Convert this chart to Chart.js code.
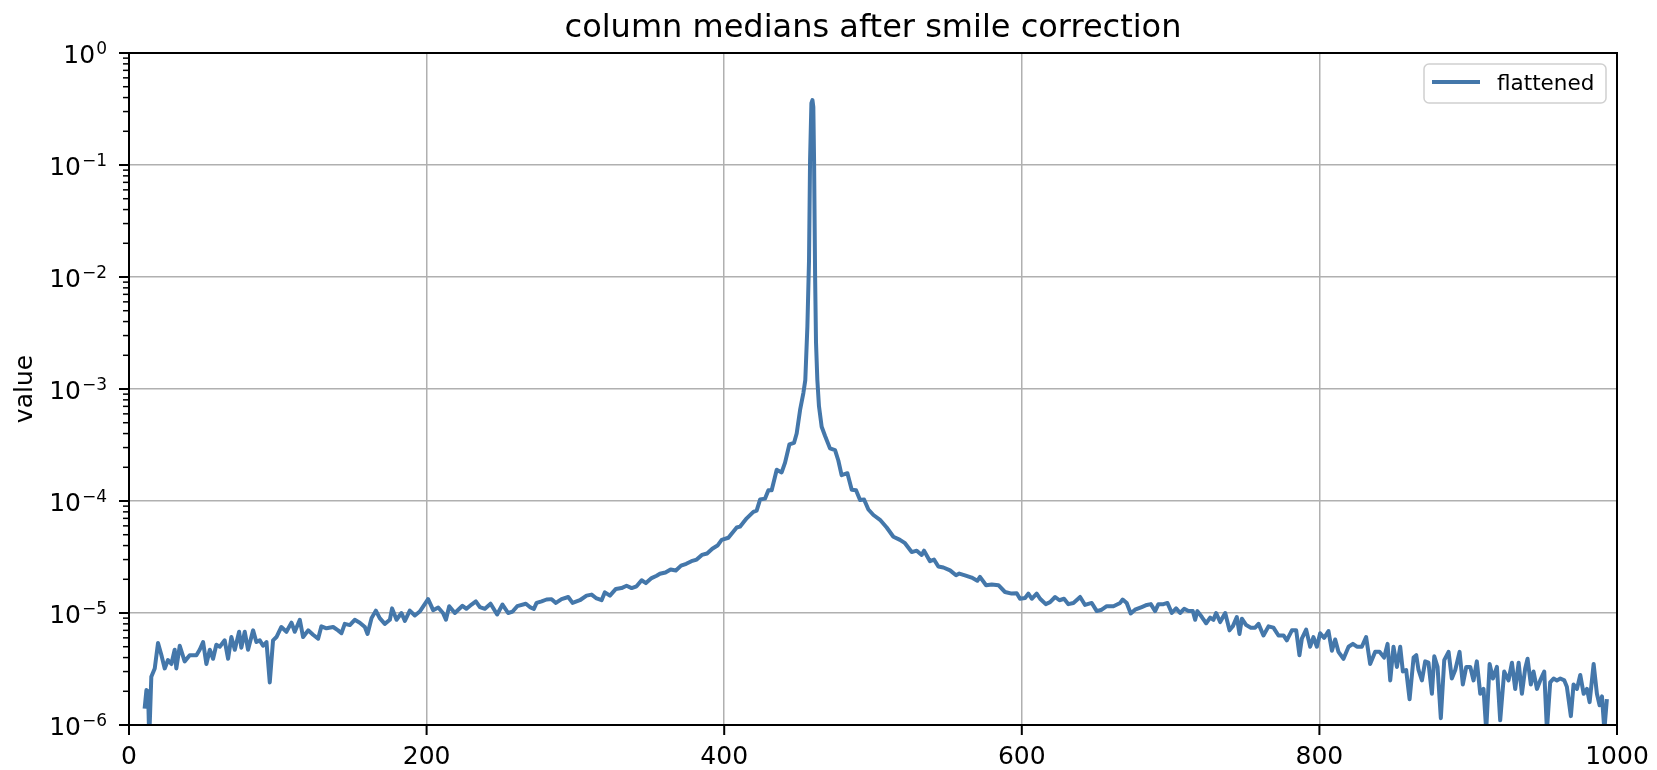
<!DOCTYPE html>
<html>
<head>
<meta charset="utf-8">
<title>column medians after smile correction</title>
<script src="https://cdn.jsdelivr.net/npm/chart.js@4.4.1/dist/chart.umd.min.js"></script>
<style>
  html, body { margin: 0; padding: 0; background: #fff; }
  canvas { display: block; }
</style>
</head>
<body>
<canvas id="medianChart" width="1657" height="770"></canvas>
<script>
/* ===============================
   DATA
================================ */
const TITLE = 'column medians after smile correction';
const Y_LABEL = 'value';
const SERIES_LABEL = 'flattened';

const X_TICKS = [0, 200, 400, 600, 800, 1000];
const Y_DECADES = [-6, -5, -4, -3, -2, -1, 0];

// column index
const columns = [
  10.5, 11.7, 12.8, 13.6, 15.0, 17.3, 19.5, 21.8, 24.0, 26.2, 28.5, 30.7, 31.8, 34.1, 37.4, 40.8,
  45.3, 47.5, 49.8, 52.0, 54.3, 56.5, 58.7, 61.0, 64.3, 66.6, 68.8, 71.1, 74.0, 75.5, 77.8, 80.0,
  83.4, 85.6, 87.9, 90.1, 92.4, 94.6, 96.8, 99.1, 102.4, 105.8, 109.2, 111.4, 114.8, 117.0, 120.4,
  123.7, 127.1, 129.3, 132.7, 137.2, 140.5, 142.8, 145.0, 148.4, 151.7, 155.1, 158.5, 160.3, 163.0,
  165.9, 168.5, 171.9, 175.3, 176.8, 179.8, 183.1, 185.4, 188.7, 192.1, 195.4, 201.0, 204.4, 207.8,
  211.0, 213.0, 215.2, 219.0, 224.1, 226.8, 230.2, 233.1, 235.8, 239.2, 243.0, 247.4, 251.0, 254.8,
  257.8, 260.9, 266.7, 269.4, 272.1, 273.9, 277.3, 280.6, 284.0, 286.9, 290.7, 295.2, 298.1, 303.0,
  307.5, 310.9, 313.8, 317.6, 319.8, 323.2, 327.2, 331.0, 334.4, 337.8, 341.1, 344.5, 347.4, 351.2,
  354.6, 356.8, 360.5, 364.0, 367.5, 371.0, 374.5, 378.0, 381.5, 385.0, 388.5, 392.0, 395.5,
  398.3, 402.8, 408.4, 410.6, 415.1, 419.6, 421.8, 424.1, 427.4, 429.7, 431.9, 435.3, 438.6, 440.9,
  443.8, 446.9, 448.7, 451.0, 453.2, 454.5, 455.9, 457.0, 457.7, 458.6, 459.3, 459.9, 460.4, 461.1,
  461.7, 462.6, 463.7, 465.5, 467.8, 471.1, 474.5, 476.7, 478.9, 482.8, 485.7, 488.6, 491.3, 494.0,
  496.9, 500.3, 504.7, 509.2, 513.7, 518.1, 521.5, 526.0, 529.4, 532.7, 534.3, 538.3, 541.0, 543.9,
  547.3, 551.8, 555.8, 558.0, 561.8, 566.3, 570.1, 571.9, 576.0, 579.8, 584.3, 588.7, 593.2, 596.6,
  598.8, 602.2, 604.4, 606.7, 610.0, 612.3, 616.1, 619.0, 622.4, 625.3, 628.4, 631.3, 634.7, 639.2,
  642.5, 647.0, 650.4, 653.7, 657.1, 661.6, 666.1, 667.8, 670.5, 673.2, 676.1, 680.6, 684.0, 686.7,
  689.6, 691.8, 695.2, 697.9, 700.8, 703.7, 706.4, 709.1, 712.0, 714.9, 716.5, 718.0, 721.0, 723.9,
  726.6, 728.8, 730.6, 733.3, 736.7, 739.6, 741.8, 744.5, 746.3, 747.9, 750.8, 753.9, 756.8, 759.1,
  762.4, 765.8, 769.1, 772.5, 775.9, 778.1, 781.5, 784.4, 786.6, 788.2, 791.1, 793.8, 796.0, 798.3,
  800.5, 803.2, 806.1, 808.4, 810.6, 812.8, 816.2, 819.6, 822.5, 825.2, 828.5, 831.4, 834.1, 837.5,
  840.4, 843.5, 845.8, 847.6, 849.8, 852.1, 854.3, 856.1, 858.3, 860.6, 863.3, 865.1, 866.6, 868.9,
  871.1, 873.3, 875.6, 877.2, 879.4, 881.6, 883.9, 886.8, 889.0, 891.3, 894.2, 896.4, 898.7, 901.4,
  903.6, 905.8, 908.1, 910.3, 912.1, 914.4, 916.6, 919.3, 921.5, 924.2, 927.1, 929.4, 931.6, 933.9,
  936.1, 938.3, 939.9, 942.1, 943.9, 946.2, 948.4, 951.1, 952.9, 955.1, 957.4, 959.6, 961.9, 964.6,
  966.3, 969.0, 970.8, 973.1, 975.3, 977.6, 979.8, 981.6, 984.3, 986.5, 988.3, 989.9, 991.5, 993.2,
];

// median value per column
const medians = [
  1.4e-6, 2.05e-6, 2.0e-6, 0.75e-6, 2.7e-6, 3.2e-6, 5.4e-6, 4.2e-6, 3.2e-6, 3.8e-6, 3.5e-6, 4.7e-6, 3.2e-6, 5.1e-6, 3.7e-6, 4.2e-6,
  4.2e-6, 4.7e-6, 5.5e-6, 3.5e-6, 4.7e-6, 3.9e-6, 5.2e-6, 5.0e-6, 5.7e-6, 3.9e-6, 6.1e-6, 4.7e-6, 6.8e-6, 4.9e-6, 6.8e-6, 4.7e-6,
  7.0e-6, 5.5e-6, 5.7e-6, 5.1e-6, 5.5e-6, 2.4e-6, 5.7e-6, 6.1e-6, 7.5e-6, 6.8e-6, 8.2e-6, 6.8e-6, 8.7e-6, 6.1e-6, 7.0e-6,
  6.4e-6, 5.9e-6, 7.6e-6, 7.3e-6, 7.5e-6, 7.0e-6, 6.6e-6, 8.0e-6, 7.8e-6, 8.7e-6, 8.2e-6, 7.5e-6, 6.5e-6, 9.0e-6,
  1.05e-5, 9.0e-6, 8.0e-6, 8.7e-6, 1.1e-5, 8.7e-6, 1.0e-5, 8.5e-6, 1.05e-5, 9.5e-6, 1.03e-5, 1.33e-5, 1.06e-5, 1.12e-5,
  1.0e-5, 8.7e-6, 1.15e-5, 1.0e-5, 1.16e-5, 1.09e-5, 1.19e-5, 1.27e-5, 1.13e-5, 1.09e-5, 1.21e-5, 9.7e-6, 1.19e-5, 1.0e-5,
  1.03e-5, 1.15e-5, 1.21e-5, 1.13e-5, 1.09e-5, 1.23e-5, 1.27e-5, 1.32e-5, 1.33e-5, 1.23e-5, 1.33e-5, 1.39e-5, 1.23e-5, 1.30e-5,
  1.43e-5, 1.46e-5, 1.36e-5, 1.30e-5, 1.53e-5, 1.43e-5, 1.64e-5, 1.67e-5, 1.75e-5, 1.67e-5, 1.73e-5, 1.96e-5, 1.85e-5, 2.05e-5,
  2.15e-5, 2.24e-5, 2.3e-5, 2.45e-5, 2.4e-5, 2.65e-5, 2.75e-5, 2.9e-5, 3.0e-5, 3.3e-5, 3.4e-5, 3.75e-5, 4.0e-5,
  4.5e-5, 4.7e-5, 5.8e-5, 5.9e-5, 7.0e-5, 8.0e-5, 8.2e-5, 1.03e-4, 1.05e-4, 1.25e-4, 1.25e-4, 1.9e-4, 1.8e-4, 2.2e-4,
  3.2e-4, 3.3e-4, 4.0e-4, 6.5e-4, 9.2e-4, 1.2e-3, 3.6e-3, 1.4e-2, 0.11, 0.356, 0.38, 0.33, 0.11, 1.0e-2,
  2.6e-3, 1.2e-3, 7.0e-4, 4.6e-4, 3.8e-4, 2.95e-4, 2.85e-4, 2.3e-4, 1.7e-4, 1.77e-4, 1.26e-4, 1.25e-4, 1.02e-4, 1.03e-4,
  8.4e-5, 7.5e-5, 6.8e-5, 5.8e-5, 4.8e-5, 4.5e-5, 4.2e-5, 3.5e-5, 3.6e-5, 3.3e-5, 3.6e-5, 2.9e-5, 3.0e-5, 2.6e-5,
  2.55e-5, 2.4e-5, 2.17e-5, 2.25e-5, 2.17e-5, 2.07e-5, 1.94e-5, 2.1e-5, 1.77e-5, 1.8e-5, 1.77e-5, 1.54e-5, 1.49e-5, 1.5e-5,
  1.34e-5, 1.36e-5, 1.49e-5, 1.34e-5, 1.49e-5, 1.34e-5, 1.2e-5, 1.25e-5, 1.39e-5, 1.3e-5, 1.34e-5, 1.2e-5, 1.23e-5, 1.39e-5,
  1.18e-5, 1.23e-5, 1.04e-5, 1.07e-5, 1.15e-5, 1.15e-5, 1.23e-5, 1.32e-5, 1.23e-5, 9.9e-6, 1.07e-5, 1.13e-5, 1.18e-5, 1.2e-5,
  1.04e-5, 1.2e-5, 1.2e-5, 1.23e-5, 1.0e-5, 1.1e-5, 1.0e-5, 1.09e-5, 1.04e-5, 1.04e-5, 8.7e-6, 1.04e-5, 9.2e-6, 8.1e-6,
  9.1e-6, 8.7e-6, 1.0e-5, 8.3e-6, 1.0e-5, 7.0e-6, 7.6e-6, 9.2e-6, 6.5e-6, 8.9e-6, 7.8e-6, 7.4e-6, 7.4e-6, 8.0e-6,
  6.3e-6, 7.6e-6, 7.4e-6, 6.3e-6, 6.3e-6, 5.7e-6, 7.0e-6, 7.0e-6, 4.2e-6, 5.9e-6, 7.1e-6, 5.0e-6, 6.1e-6, 5.0e-6,
  6.6e-6, 6.0e-6, 6.9e-6, 4.6e-6, 5.8e-6, 4.5e-6, 3.9e-6, 5.0e-6, 5.3e-6, 5.0e-6, 5.0e-6, 6.1e-6, 3.5e-6, 4.5e-6,
  4.5e-6, 4.0e-6, 5.3e-6, 2.5e-6, 5.0e-6, 3.3e-6, 5.0e-6, 3.0e-6, 3.1e-6, 1.7e-6, 4.0e-6, 4.2e-6, 3.1e-6, 2.5e-6,
  3.7e-6, 3.6e-6, 1.9e-6, 4.1e-6, 3.3e-6, 1.15e-6, 3.8e-6, 4.5e-6, 2.6e-6, 3.1e-6, 4.5e-6, 2.3e-6, 3.3e-6, 3.3e-6,
  2.5e-6, 3.7e-6, 1.9e-6, 2.1e-6, 0.9e-6, 3.5e-6, 2.6e-6, 3.3e-6, 1.1e-6, 3.0e-6, 2.5e-6, 3.6e-6, 2.1e-6, 3.6e-6,
  1.9e-6, 3.2e-6, 3.9e-6, 2.3e-6, 3.0e-6, 2.1e-6, 2.5e-6, 3.0e-6, 0.9e-6, 2.4e-6, 2.6e-6, 2.5e-6, 2.6e-6, 2.5e-6,
  2.2e-6, 1.2e-6, 2.3e-6, 2.1e-6, 2.8e-6, 1.9e-6, 2.1e-6, 1.6e-6, 3.5e-6, 1.9e-6, 1.5e-6, 1.8e-6, 0.9e-6, 1.7e-6,
];

/* ===============================
   STYLE
================================ */
const LINE_COLOR = '#4477aa';
const GRID_COLOR = '#b0b0b0';
const FONT = '"DejaVu Sans", "Liberation Sans", sans-serif';

function strokeLine(ctx, x1, y1, x2, y2) {
  ctx.beginPath();
  ctx.moveTo(x1, y1);
  ctx.lineTo(x2, y2);
  ctx.stroke();
}

function decadeTicks(scale) {
  scale.ticks = Y_DECADES.map((e) => ({ value: Math.pow(10, e) }));
}

/* ===============================
   AXES DECORATION PLUGIN
   (spines, tick marks, labels, title, legend)
================================ */
const axesDecor = {
  id: 'axesDecor',
  afterDraw(chart) {
    const { ctx, chartArea: a } = chart;
    const xs = chart.scales.x;
    const ys = chart.scales.y;
    ctx.save();
    ctx.fillStyle = '#000';
    ctx.strokeStyle = '#000';

    // x ticks + labels
    ctx.lineWidth = 2;
    ctx.font = '25px ' + FONT;
    ctx.textAlign = 'center';
    ctx.textBaseline = 'alphabetic';
    X_TICKS.forEach((v) => {
      const px = xs.getPixelForValue(v);
      strokeLine(ctx, px, a.bottom, px, a.bottom + 10);
      ctx.fillText(String(v), px, a.bottom + 39);
    });

    // y minor ticks
    ctx.lineWidth = 1.5;
    for (let e = Y_DECADES[0]; e < Y_DECADES[Y_DECADES.length - 1]; e++) {
      for (let k = 2; k <= 9; k++) {
        const py = ys.getPixelForValue(k * Math.pow(10, e));
        strokeLine(ctx, a.left - 6, py, a.left, py);
      }
    }

    // y major ticks + 10^n labels
    ctx.lineWidth = 2;
    ctx.textAlign = 'right';
    Y_DECADES.forEach((e) => {
      const py = ys.getPixelForValue(Math.pow(10, e));
      strokeLine(ctx, a.left - 10, py, a.left, py);
      const sup = e < 0 ? '\u2212' + Math.abs(e) : String(e);
      const rx = a.left - 22;
      ctx.font = '17px ' + FONT;
      const supW = ctx.measureText(sup).width;
      ctx.fillText(sup, rx, py + 0.5);
      ctx.font = '25px ' + FONT;
      ctx.fillText('10', rx - supW - 1, py + 10);
    });

    // spines
    ctx.lineWidth = 2;
    ctx.strokeRect(a.left, a.top, a.right - a.left, a.bottom - a.top);

    // title
    ctx.font = '32px ' + FONT;
    ctx.textAlign = 'center';
    ctx.fillText(TITLE, (a.left + a.right) / 2, 37);

    // y label
    ctx.save();
    ctx.translate(32, (a.top + a.bottom) / 2);
    ctx.rotate(-Math.PI / 2);
    ctx.font = '25px ' + FONT;
    ctx.textAlign = 'center';
    ctx.fillText(Y_LABEL, 0, 0);
    ctx.restore();

    // legend box, upper right
    const bw = 182;
    const bh = 39;
    const bx = a.right - 11 - bw;
    const by = a.top + 11;
    ctx.beginPath();
    ctx.roundRect(bx, by, bw, bh, 5);
    ctx.fillStyle = 'rgba(255,255,255,0.8)';
    ctx.fill();
    ctx.strokeStyle = '#d0d0d0';
    ctx.lineWidth = 1.5;
    ctx.stroke();
    ctx.strokeStyle = LINE_COLOR;
    ctx.lineWidth = 4;
    strokeLine(ctx, bx + 8, by + 18, bx + 56, by + 18);
    ctx.fillStyle = '#000';
    ctx.font = '21.5px ' + FONT;
    ctx.textAlign = 'left';
    ctx.fillText(SERIES_LABEL, bx + 73, by + 26);

    ctx.restore();
  },
};

/* ===============================
   CHART
================================ */
const points = columns.map((c, i) => ({ x: c, y: medians[i] }));

const medianChart = new Chart(document.getElementById('medianChart'), {
  type: 'line',
  data: {
    datasets: [
      {
        label: SERIES_LABEL,
        data: points,
        borderColor: LINE_COLOR,
        borderWidth: 4,
        borderJoinStyle: 'round',
        pointRadius: 0,
        tension: 0,
        fill: false,
        clip: 0,
      },
    ],
  },
  options: {
    responsive: false,
    animation: false,
    devicePixelRatio: 1,
    layout: { autoPadding: false, padding: { top: 53, right: 40, left: 0, bottom: 0 } },
    plugins: {
      legend: { display: false },
      title: { display: false },
      tooltip: { enabled: false },
    },
    scales: {
      x: {
        type: 'linear',
        min: 0,
        max: 1000,
        afterBuildTicks: (s) => {
          s.ticks = X_TICKS.map((v) => ({ value: v }));
        },
        afterFit: (s) => {
          s.height = 45;
        },
        ticks: { display: false },
        grid: { color: GRID_COLOR, lineWidth: 1.5, drawTicks: false },
        border: { display: false },
      },
      y: {
        type: 'logarithmic',
        min: 1e-6,
        max: 1,
        afterBuildTicks: decadeTicks,
        afterFit: (s) => {
          s.width = 129;
        },
        ticks: { display: false },
        grid: { color: GRID_COLOR, lineWidth: 1.5, drawTicks: false },
        border: { display: false },
      },
    },
  },
  plugins: [axesDecor],
});
</script>
</body>
</html>
